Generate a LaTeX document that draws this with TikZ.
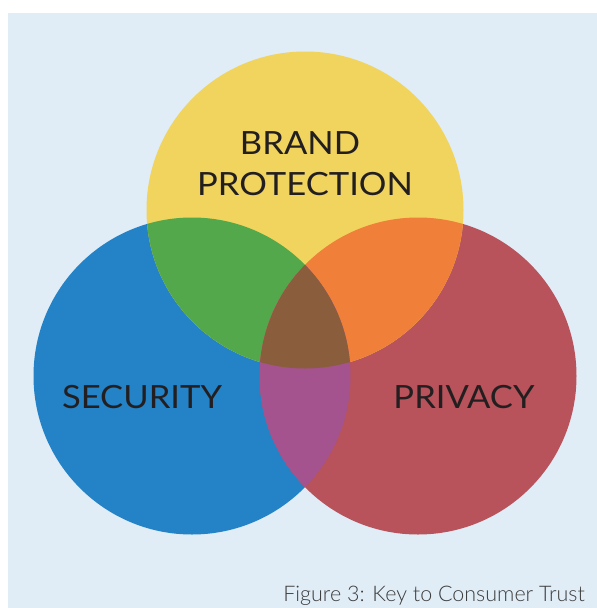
\documentclass[tikz,border=0pt]{standalone}
\usepackage{fontspec}
\setmainfont{Lato}
\newfontfamily\lblfont[FakeStretch=1.08]{Lato}
\newfontfamily\capfont{Lato Light}
\definecolor{bgblue}{HTML}{E0ECF6}
\definecolor{cyellow}{HTML}{F0D45E}
\definecolor{cblue}{HTML}{2383C6}
\definecolor{cred}{HTML}{B8525B}
\definecolor{cgreen}{HTML}{52A84A}
\definecolor{corange}{HTML}{F07F3A}
\definecolor{cbrown}{HTML}{8A5E3C}
\definecolor{cpurple}{HTML}{A5538E}
\definecolor{ctext}{HTML}{231F20}
\definecolor{ccap}{HTML}{3C3C3C}
\begin{document}
\begin{tikzpicture}[x=1pt,y=-1pt,
  label/.style={font=\lblfont\fontsize{32}{38}\selectfont, text=ctext, inner sep=0pt, anchor=base},
  caption/.style={font=\capfont\fontsize{21.5}{26}\selectfont, text=ccap, inner sep=0pt, anchor=base east}]
\useasboundingbox (0,0) rectangle (597,608);
\fill[white] (0,0) rectangle (597,608);
\fill[bgblue] (8,13) rectangle (597,608);
\def\R{158.5}
\coordinate (cy) at (305,210);
\coordinate (cb) at (192,376);
\coordinate (cr) at (418,376);
\fill[cblue] (cb) circle (\R);
\fill[cred] (cr) circle (\R);
\fill[cyellow] (cy) circle (\R);
\begin{scope}
  \clip (cy) circle (\R);
  \fill[cgreen] (cb) circle (\R);
  \fill[corange] (cr) circle (\R);
\end{scope}
\begin{scope}
  \clip (cb) circle (\R);
  \fill[cpurple] (cr) circle (\R);
  \clip (cr) circle (\R);
  \fill[cbrown] (cy) circle (\R);
\end{scope}
\node[label] (brand) at (300,154) {BRAND};
\node[label] (prot) at (305,195) {PROTECTION};
\node[label] (sec) at (142,408) {SECURITY};
\node[label] (priv) at (464,408) {PRIVACY};
\node[caption] (cap) at (585,601) {Figure 3: Key to Consumer Trust};
\end{tikzpicture}
\end{document}
